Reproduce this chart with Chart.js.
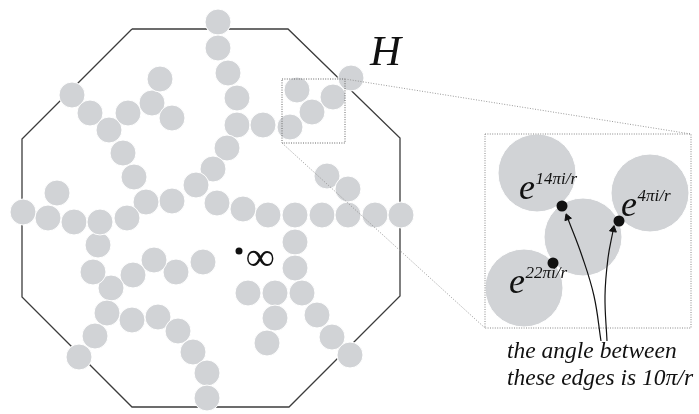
<!DOCTYPE html>
<html><head><meta charset="utf-8">
<script src="https://cdn.jsdelivr.net/npm/chart.js@4/dist/chart.umd.min.js"></script>
<style>html,body{margin:0;padding:0;background:#fff;overflow:hidden}#c{display:block}</style>
</head><body>
<canvas id="c" width="699" height="414"></canvas>
<script>
// ---- data (diagram coordinates) ----
const octagon = [[132,29],[288,29],[400,138],[400,296],[289,407],[132,407],[22,297],[22,139],[132,29]];
const discs = [
  [218,22],[218,48],[228,73],[237,98],[237,125],[263,125],[290,127],
  [297,90],[312,112],[333,97],[351,78],
  [227,148],[213,169],[196,185],[172,201],[146,202],[217,203],
  [243,209],[268,215],[295,215],[322,215],[348,215],[375,215],[401,215],
  [327,176],[348,189],
  [295,242],[295,268],[302,293],[275,293],[248,293],[275,318],[267,343],
  [317,315],[332,337],[350,355],
  [203,262],[176,272],[154,260],[133,275],[111,288],[93,272],[98,245],
  [23,212],[57,193],[48,218],[74,222],[100,222],[127,218],
  [72,95],[90,113],[109,130],[128,113],[152,103],[160,79],[172,118],[123,153],[134,177],
  [107,313],[95,336],[79,357],[132,320],[158,317],[178,331],[193,352],[207,373],[207,398]
];
const insetDiscs = [[537,173],[583,237],[650,193],[524,288]];
const contactDots = [[562,206],[619,221],[553,263]];
const infinityDot = [[239,251]];
const zoomBox = [[282,79],[345,79],[345,143],[282,143],[282,79]];
const insetBox = [[485,134],[691,134],[691,328],[485,328],[485,134]];
const leaderTop = [[345,79],[691,134]];
const leaderBottom = [[282,143],[485,328]];
const arrowA = [[601,341],[594,296],[582,256],[568,219]];
const arrowB = [[607,341],[605,296],[608,258],[613,231]];
const expLabels = [
  {base:'e', sup:'14\u03c0i/r', at:[519,199]},
  {base:'e', sup:'4\u03c0i/r', at:[621,216]},
  {base:'e', sup:'22\u03c0i/r', at:[509,293]}
];
const titleLabel = {text:'H', at:[370,65]};
const infinityLabel = {text:'\u221e', at:[246,270]};
const captionLines = ['the angle between', 'these edges is 10\u03c0/r'];
const captionAt = [[507,358],[507,385]];

const pts = a => a.map(p => ({x:p[0], y:p[1]}));
function headAngle(a){
  const p = a[a.length-2], q = a[a.length-1];
  return Math.atan2(q[0]-p[0], -(q[1]-p[1])) * 180 / Math.PI;
}
function headPoint(a){
  const p = a[a.length-2], q = a[a.length-1];
  const d = Math.hypot(q[0]-p[0], q[1]-p[1]);
  return [[q[0] + (q[0]-p[0])/d*1.5, q[1] + (q[1]-p[1])/d*1.5]];
}

const SERIF = '"Liberation Serif", "DejaVu Serif", serif';
const textPlugin = {
  id:'texts',
  afterDatasetsDraw(chart){
    const ctx = chart.ctx, xs = chart.scales.x, ys = chart.scales.y;
    const X = v => xs.getPixelForValue(v), Y = v => ys.getPixelForValue(v);
    ctx.save();
    ctx.fillStyle = '#111';
    ctx.textBaseline = 'alphabetic';
    ctx.textAlign = 'left';
    ctx.font = 'italic 43px ' + SERIF;
    ctx.fillText(titleLabel.text, X(titleLabel.at[0]), Y(titleLabel.at[1]));
    ctx.font = 'bold 40px ' + SERIF;
    ctx.fillText(infinityLabel.text, X(infinityLabel.at[0]), Y(infinityLabel.at[1]));
    expLabels.forEach(l => {
      ctx.font = 'italic 36px ' + SERIF;
      const w = ctx.measureText(l.base).width;
      ctx.fillText(l.base, X(l.at[0]), Y(l.at[1]));
      ctx.font = 'italic 17px ' + SERIF;
      ctx.fillText(l.sup, X(l.at[0]) + w + 0.5, Y(l.at[1]) - 15);
    });
    ctx.font = 'italic 23.5px ' + SERIF;
    captionLines.forEach((t,i) => ctx.fillText(t, X(captionAt[i][0]), Y(captionAt[i][1])));
    ctx.restore();
  }
};

const lineDs = (data, color, width, dash, order) => ({
  type:'line', data:pts(data), showLine:true, fill:false, borderColor:color,
  borderWidth:width, borderDash:dash, pointRadius:0, tension:0, order, clip:false
});

new Chart(document.getElementById('c'), {
  type:'scatter',
  data:{datasets:[
    lineDs(octagon, '#3c3c3c', 1.3, [], 10),
    {data:pts(discs), backgroundColor:'#d1d3d6', borderColor:'#ffffff', borderWidth:1,
     pointRadius:13, pointHoverRadius:13, order:9, clip:false},
    {data:pts(insetDiscs), backgroundColor:'#d1d3d6', borderColor:'#ffffff', borderWidth:1,
     pointRadius:39, pointHoverRadius:39, order:9, clip:false},
    lineDs(zoomBox, '#666', 1, [1,1.4], 5),
    lineDs(insetBox, '#888', 1, [1,1.4], 5),
    lineDs(leaderTop, '#999', 1, [1,1.6], 5),
    lineDs(leaderBottom, '#999', 1, [1,1.6], 5),
    Object.assign(lineDs(arrowA, '#111', 1.2, [], 4), {tension:0.4}),
    Object.assign(lineDs(arrowB, '#111', 1.2, [], 4), {tension:0.4}),
    {data:pts(headPoint(arrowA)), pointStyle:'triangle', rotation:headAngle(arrowA), pointRadius:4,
     backgroundColor:'#111', borderColor:'#111', borderWidth:1, order:3, clip:false},
    {data:pts(headPoint(arrowB)), pointStyle:'triangle', rotation:headAngle(arrowB), pointRadius:4,
     backgroundColor:'#111', borderColor:'#111', borderWidth:1, order:3, clip:false},
    {data:pts(contactDots), backgroundColor:'#111', borderColor:'#111', borderWidth:0,
     pointRadius:5.5, order:2, clip:false},
    {data:pts(infinityDot), backgroundColor:'#111', borderColor:'#111', borderWidth:0,
     pointRadius:3.5, order:2, clip:false}
  ]},
  options:{
    responsive:false, animation:false, devicePixelRatio:1,
    layout:{padding:0, autoPadding:false},
    plugins:{legend:{display:false}, tooltip:{enabled:false}},
    events:[],
    scales:{
      x:{type:'linear', min:0, max:699, display:false},
      y:{type:'linear', min:0, max:414, reverse:true, display:false}
    }
  },
  plugins:[textPlugin]
});
</script>
</body></html>
